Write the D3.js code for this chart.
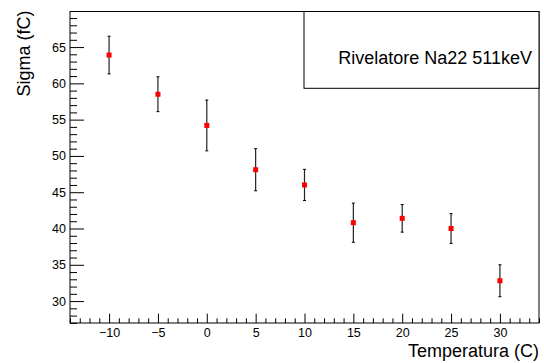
<!DOCTYPE html>
<html>
<head>
<meta charset="utf-8">
<script src="https://cdn.jsdelivr.net/npm/d3@7"></script>
<style>
  body { margin: 0; background: #fff; }
  text { font-family: "Liberation Sans", Arial, sans-serif; }
</style>
</head>
<body>
<div id="chart"></div>
<script>
// Data
const temps = [-10, -5, 0, 5, 10, 15, 20, 25, 30];
const sigma = [63.9, 58.5, 54.2, 48.1, 46.0, 40.8, 41.4, 40.0, 32.8];
const sigmaErr = [2.6, 2.4, 3.5, 2.9, 2.15, 2.7, 1.9, 2.05, 2.2];
const xTicks = [-10, -5, 0, 5, 10, 15, 20, 25, 30];
const yTicks = [30, 35, 40, 45, 50, 55, 60, 65];

const width = 544;
const height = 363;
const frame = { left: 70, right: 539, top: 11.5, bottom: 323 };

const svg = d3.select("#chart")
  .append("svg")
  .attr("width", width)
  .attr("height", height);

const xScale = d3.scaleLinear()
  .domain([-14, 34])
  .range([frame.left, frame.right]);

const yScale = d3.scaleLinear()
  .domain([26.98, 69.9])
  .range([frame.bottom, frame.top]);

// frame
svg.append("rect")
  .attr("x", frame.left)
  .attr("y", frame.top)
  .attr("width", frame.right - frame.left)
  .attr("height", frame.bottom - frame.top)
  .attr("fill", "none")
  .attr("stroke", "#000")
  .attr("stroke-width", 1);

// x axis: major + minor ticks pointing up inside the frame
const xMinor = d3.range(-14, 35, 1).filter(v => v % 5 !== 0);
const xAxisMajor = d3.axisBottom(xScale)
  .tickValues(xTicks)
  .tickSizeInner(-9.3)
  .tickSizeOuter(0)
  .tickPadding(5)
  .tickFormat(d => d < 0 ? "\u2212" + Math.abs(d) : d);
const xAxisMinor = d3.axisBottom(xScale)
  .tickValues(xMinor)
  .tickSizeInner(-4.7)
  .tickSizeOuter(0)
  .tickFormat("");

svg.append("g")
  .attr("transform", `translate(0,${frame.bottom})`)
  .call(xAxisMajor);
svg.append("g")
  .attr("transform", `translate(0,${frame.bottom})`)
  .call(xAxisMinor);

// y axis
const yMinor = d3.range(27, 70, 1).filter(v => v % 5 !== 0);
const yAxisMajor = d3.axisLeft(yScale)
  .tickValues(yTicks)
  .tickSizeInner(-14)
  .tickSizeOuter(0)
  .tickPadding(4);
const yAxisMinor = d3.axisLeft(yScale)
  .tickValues(yMinor)
  .tickSizeInner(-7)
  .tickSizeOuter(0)
  .tickFormat("");

svg.append("g")
  .attr("transform", `translate(${frame.left},0)`)
  .call(yAxisMajor);
svg.append("g")
  .attr("transform", `translate(${frame.left},0)`)
  .call(yAxisMinor);

svg.selectAll(".domain").remove();
svg.selectAll(".tick line").attr("stroke", "#000");
svg.selectAll(".tick text")
  .style("font-size", "12.5px")
  .attr("fill", "#000");

// axis titles
svg.append("text")
  .attr("x", frame.right)
  .attr("y", 357)
  .style("text-anchor", "end")
  .style("font-size", "18px")
  .text("Temperatura (C)");

svg.append("text")
  .attr("transform", `translate(30,${frame.top - 1}) rotate(-90)`)
  .style("text-anchor", "end")
  .style("font-size", "18px")
  .text("Sigma (fC)");

// legend box
svg.append("rect")
  .attr("x", 304)
  .attr("y", frame.top)
  .attr("width", frame.right - 304)
  .attr("height", 88.3 - frame.top)
  .attr("fill", "#fff")
  .attr("stroke", "#000");

svg.append("text")
  .attr("x", 532)
  .attr("y", 64)
  .style("text-anchor", "end")
  .style("font-size", "18px")
  .text("Rivelatore Na22 511keV");

// error bars
const points = temps.map((t, i) => ({ x: t, y: sigma[i], e: sigmaErr[i] }));

svg.selectAll(".err")
  .data(points)
  .enter()
  .append("line")
  .attr("x1", d => xScale(d.x))
  .attr("x2", d => xScale(d.x))
  .attr("y1", d => yScale(d.y + d.e))
  .attr("y2", d => yScale(d.y - d.e))
  .attr("stroke", "#222")
  .attr("stroke-width", 1.2);

// little end caps
["top", "bottom"].forEach(function (side) {
  svg.selectAll(".cap-" + side)
    .data(points)
    .enter()
    .append("line")
    .attr("x1", d => xScale(d.x) - 1.5)
    .attr("x2", d => xScale(d.x) + 1.5)
    .attr("y1", d => yScale(side === "top" ? d.y + d.e : d.y - d.e))
    .attr("y2", d => yScale(side === "top" ? d.y + d.e : d.y - d.e))
    .attr("stroke", "#000")
    .attr("stroke-width", 1);
});

// markers
svg.selectAll(".marker")
  .data(points)
  .enter()
  .append("rect")
  .attr("x", d => xScale(d.x) - 2.5)
  .attr("y", d => yScale(d.y) - 2.5)
  .attr("width", 5)
  .attr("height", 5)
  .attr("fill", "#ff0000");
</script>
</body>
</html>
